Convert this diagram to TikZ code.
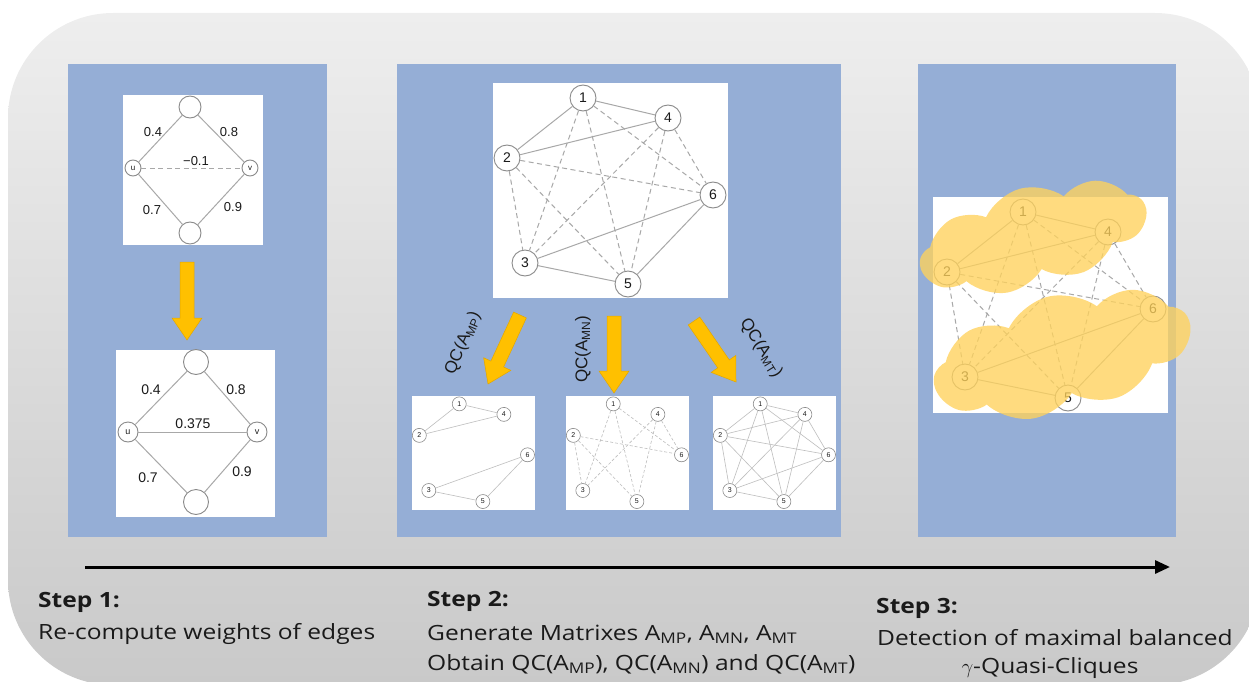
\documentclass[tikz,border=0pt]{standalone}
\usepackage{fontspec}
\setmainfont{Open Sans}[FakeStretch=1.17]
\newfontfamily\grf{Liberation Sans}
\usetikzlibrary{calc,shapes.symbols,arrows.meta}
\definecolor{bgtop}{HTML}{EEEEEE}
\definecolor{bgbot}{HTML}{C9C9C9}
\definecolor{panelc}{HTML}{95AED6}
\definecolor{arrc}{HTML}{FFC000}
\definecolor{arrd}{HTML}{E3A700}
\definecolor{edgec}{HTML}{A8A8A8}
\definecolor{circc}{HTML}{8A8A8A}
\definecolor{cloudc}{HTML}{FFD25C}
\definecolor{txt}{HTML}{1A1A1A}
\tikzset{
  panel/.style={fill=panelc, draw=none},
  wbox/.style={fill=white, draw=none, anchor=north west, inner sep=0pt},
  gnode/.style={circle, draw=circc, fill=white, line width=0.9pt, inner sep=0pt, text=txt,
    font=\grf\fontsize{14}{14}\selectfont, minimum size=26pt},
  snode/.style={gnode, minimum size=14pt, line width=0.6pt, font=\grf\fontsize{7}{7}\selectfont},
  pe/.style={draw=edgec, line width=1pt},
  ne/.style={draw=edgec, line width=1pt, dash pattern=on 5pt off 3.5pt},
  spe/.style={draw=edgec!75, line width=0.6pt},
  sne/.style={draw=edgec!75, line width=0.6pt, dash pattern=on 3pt off 2pt},
  wlab/.style={font=\grf\fontsize{13}{13}\selectfont, text=txt, inner sep=0pt},
  barrow/.style={fill=arrc, draw=arrd, line width=0.5pt},
  steptitle/.style={anchor=west, font=\bfseries\fontsize{21}{21}\selectfont, inner sep=0pt, text=txt},
  steptext/.style={anchor=west, font=\fontsize{21}{21}\selectfont, inner sep=0pt, text=txt},
  qclab/.style={font=\grf\fontsize{17}{17}\selectfont, text=txt, inner sep=0pt},
  cloudy/.style={cloud, cloud puffs=9, cloud puff arc=100, fill=cloudc, fill opacity=0.78, draw=none, inner sep=0pt},
}
\newcommand\sixnodes[2]{%
  \node[#2] (#1n1) at (90,15) {1};
  \node[#2] (#1n2) at (14,75) {2};
  \node[#2] (#1n3) at (32,180) {3};
  \node[#2] (#1n4) at (175,35) {4};
  \node[#2] (#1n5) at (135,201) {5};
  \node[#2] (#1n6) at (220,112) {6};
}
\newcommand\posedges[2]{\foreach \a/\b in {1/2,1/4,2/4,3/6,3/5,5/6}{\draw[#2] (#1n\a) -- (#1n\b);}}
\newcommand\negedges[2]{\foreach \a/\b in {1/3,1/5,1/6,2/6,2/3,2/5,4/3,4/5,4/6}{\draw[#2] (#1n\a) -- (#1n\b);}}
\newcommand\blockarr[2]{%
  \coordinate (#1h) at ($(#2)!22pt!(#1)$);
  \filldraw[barrow] ($(#1)!7pt!90:(#2)$) -- ($(#1h)!7pt!90:(#2)$) -- ($(#1h)!15pt!90:(#2)$)
    -- (#2) -- ($(#1h)!15pt!-90:(#2)$) -- ($(#1h)!7pt!-90:(#2)$) -- ($(#1)!7pt!-90:(#2)$) -- cycle;
}
\begin{document}
\begin{tikzpicture}[x=1pt,y=-1pt]
\useasboundingbox (0,0) rectangle (1249,682);
\shade[top color=bgtop, bottom color=bgbot, rounded corners=105pt] (8,13) rectangle (1260,685);

% ---------- Panel 1 ----------
\fill[panel] (68,64) rectangle (327,537);
\node[wbox, minimum width=140pt, minimum height=150pt] (box1a) at (123,95) {};
\node[gnode, minimum size=22pt] (t1) at (190,107) {};
\node[gnode, minimum size=16pt, font=\grf\fontsize{8}{8}\selectfont] (u1) at (133,168) {u};
\node[gnode, minimum size=16pt, font=\grf\fontsize{8}{8}\selectfont] (v1) at (250,168) {v};
\node[gnode, minimum size=22pt] (d1) at (190,233) {};
\draw[pe] (u1) -- (t1);
\draw[pe] (t1) -- (v1);
\draw[pe] (u1) -- (d1);
\draw[pe] (d1) -- (v1);
\draw[ne] (u1) -- (v1);
\node[wlab] (la1) at (153,132) {0.4};
\node[wlab] (la2) at (229,132) {0.8};
\node[wlab] (la3) at (196,161) {−0.1};
\node[wlab] (la4) at (152,210) {0.7};
\node[wlab] (la5) at (233,207) {0.9};

\coordinate (p1s) at (187,262);
\coordinate (p1t) at (187,340);
\blockarr{p1s}{p1t}

\node[wbox, minimum width=159pt, minimum height=167pt] (box1b) at (116,350) {};
\node[gnode, minimum size=25pt] (t2) at (196,362) {};
\node[gnode, minimum size=20pt, font=\grf\fontsize{9}{9}\selectfont] (u2) at (128,432) {u};
\node[gnode, minimum size=20pt, font=\grf\fontsize{9}{9}\selectfont] (v2) at (257,432) {v};
\node[gnode, minimum size=25pt] (d2) at (196,502) {};
\draw[pe] (u2) -- (t2);
\draw[pe] (t2) -- (v2);
\draw[pe] (u2) -- (d2);
\draw[pe] (d2) -- (v2);
\draw[pe] (u2) -- (v2);
\node[wlab, font=\grf\fontsize{14}{14}\selectfont] (lb1) at (151,390) {0.4};
\node[wlab, font=\grf\fontsize{14}{14}\selectfont] (lb2) at (236,390) {0.8};
\node[wlab, font=\grf\fontsize{14}{14}\selectfont] (lb3) at (193,424) {0.375};
\node[wlab, font=\grf\fontsize{14}{14}\selectfont] (lb4) at (148,478) {0.7};
\node[wlab, font=\grf\fontsize{14}{14}\selectfont] (lb5) at (242,472) {0.9};

% ---------- Panel 2 ----------
\fill[panel] (397,64) rectangle (841,537);
\node[wbox, minimum width=235pt, minimum height=215pt] (box2) at (493,83) {};
\begin{scope}[shift={(493,83)}]
  \sixnodes{G}{gnode}
\end{scope}
\posedges{G}{pe}
\negedges{G}{ne}

\node[wbox, minimum width=123pt, minimum height=114pt] (boxA) at (412,396) {};
\node[wbox, minimum width=123pt, minimum height=114pt] (boxB) at (566,396) {};
\node[wbox, minimum width=123pt, minimum height=114pt] (boxC) at (713,396) {};
\begin{scope}[shift={(412,396)}, scale=0.525]
  \sixnodes{A}{snode}
\end{scope}
\begin{scope}[shift={(566,396)}, scale=0.525]
  \sixnodes{B}{snode}
\end{scope}
\begin{scope}[shift={(713,396)}, scale=0.525]
  \sixnodes{C}{snode}
\end{scope}
\posedges{A}{spe}
\negedges{B}{sne}
\posedges{C}{spe}
\negedges{C}{spe}

\coordinate (q1s) at (520,315);
\coordinate (q1t) at (488,384);
\coordinate (q2s) at (614,316);
\coordinate (q2t) at (614,393);
\coordinate (q3s) at (694,321);
\coordinate (q3t) at (736,382);
\blockarr{q1s}{q1t}
\blockarr{q2s}{q2t}
\blockarr{q3s}{q3t}
\node[qclab, rotate=67] (qc1) at (463,343) {QC(A\textsubscript{MP})};
\node[qclab, rotate=90] (qc2) at (583,349) {QC(A\textsubscript{MN})};
\node[qclab, rotate=-58] (qc3) at (761,348) {QC(A\textsubscript{MT})};

% ---------- Panel 3 ----------
\fill[panel] (918,64) rectangle (1176,537);
\node[wbox, minimum width=235pt, minimum height=216pt] (box3) at (933,197) {};
\begin{scope}[shift={(933,197)}]
  \sixnodes{H}{gnode}
\end{scope}
\posedges{H}{pe}
\negedges{H}{ne}
\node[cloudy, minimum width=232pt, minimum height=100pt, rotate=15] (cl1) at (1033,237) {};
\node[cloudy, minimum width=262pt, minimum height=118pt, rotate=14] (cl2) at (1062,354) {};

% ---------- Timeline ----------
\coordinate (tl0) at (85,567);
\coordinate (tl1) at (1170,567);
\draw[line width=3pt, -{Triangle[length=15pt,width=13pt]}] (tl0) -- (tl1);

\node[steptitle] (s1) at (38,602) {Step 1:};
\node[steptext] (s1a) at (38,634) {Re-compute weights of edges};
\node[steptitle] (s2) at (427,601) {Step 2:};
\node[steptext] (s2a) at (427,634) {Generate Matrixes A\textsubscript{MP}, A\textsubscript{MN}, A\textsubscript{MT}};
\node[steptext] (s2b) at (427,664) {Obtain QC(A\textsubscript{MP}), QC(A\textsubscript{MN}) and QC(A\textsubscript{MT})};
\node[steptitle] (s3) at (876,608) {Step 3:};
\node[steptext] (s3a) at (877,638) {Detection of maximal balanced};
\node[steptext, anchor=center] (s3b) at (1050,668) {$\gamma$-Quasi-Cliques};
\end{tikzpicture}
\end{document}
